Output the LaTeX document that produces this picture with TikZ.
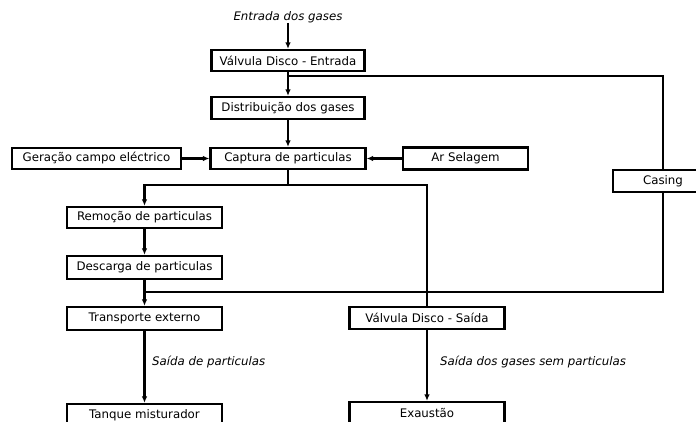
\documentclass[tikz,border=0pt]{standalone}
\usepackage{fontspec}
\setmainfont{DejaVu Sans}
\usetikzlibrary{arrows.meta}
\begin{document}
\begin{tikzpicture}[x=1pt,y=-1pt,
  box/.style={draw, line width=2.2pt, fill=white, inner sep=0pt, minimum height=21pt, font=\fontsize{11.8}{13}\selectfont},
  lbl/.style={font=\fontsize{11.8}{13}\selectfont\itshape, inner sep=0pt},
  conn/.style={line width=2.2pt},
  arr/.style={conn, -{Latex[length=6.5pt,width=5.5pt]}}]
\useasboundingbox (0,0) rectangle (696,421);
% nodes
\node[lbl] (in) at (288,17) {Entrada dos gases};
\node[box, minimum width=153pt] (ve) at (288,60.5) {Válvula Disco - Entrada};
\node[box, minimum width=153pt, minimum height=22pt] (di) at (288,108) {Distribuição dos gases};
\node[box, minimum width=155pt] (ca) at (288,158.5) {Captura de particulas};
\node[box, minimum width=169pt] (ge) at (96.5,158.5) {Geração campo eléctrico};
\node[box, minimum width=125pt, minimum height=22pt] (ar) at (465.5,158.5) {Ar Selagem};
\node[box, minimum width=100pt, minimum height=22pt] (cs) at (663,181) {Casing};
\node[box, minimum width=155pt] (re) at (144.5,217.5) {Remoção de particulas};
\node[box, minimum width=155pt, minimum height=23pt] (dc) at (144.5,267.5) {Descarga de particulas};
\node[box, minimum width=155pt, minimum height=23pt] (tr) at (144.5,318.5) {Transporte externo};
\node[box, minimum width=155pt, minimum height=22pt] (tq) at (144.5,415) {Tanque misturador};
\node[box, minimum width=155pt, minimum height=22pt] (vs) at (427,318) {Válvula Disco - Saída};
\node[box, minimum width=155pt, minimum height=22pt] (ex) at (427,413) {Exaustão};
\node[lbl, anchor=west] (l1) at (152,362) {Saída de particulas};
\node[lbl, anchor=west] (l2) at (440,362) {Saída dos gases sem particulas};
% junctions
\coordinate (j0) at (288,76);
\coordinate (j1) at (288,185);
\coordinate (j3) at (144.5,292);
% connectors
\draw[arr] (in) -- (ve);
\draw[arr] (ve) -- (di);
\draw[conn] (j0) -| (cs.north);
\draw[conn] (cs.south) |- (j3);
\draw[arr] (di) -- (ca);
\draw[arr] (ge) -- (ca);
\draw[arr] (ar) -- (ca);
\draw[conn] (ca.south) -- (j1);
\draw[arr] (j1) -| (re.north);
\draw[conn] (j1) -| (vs.north);
\draw[arr] (re) -- (dc);
\draw[arr] (dc) -- (tr);
\draw[arr] (tr) -- (tq);
\draw[arr] (vs) -- (ex);
\end{tikzpicture}
\end{document}
